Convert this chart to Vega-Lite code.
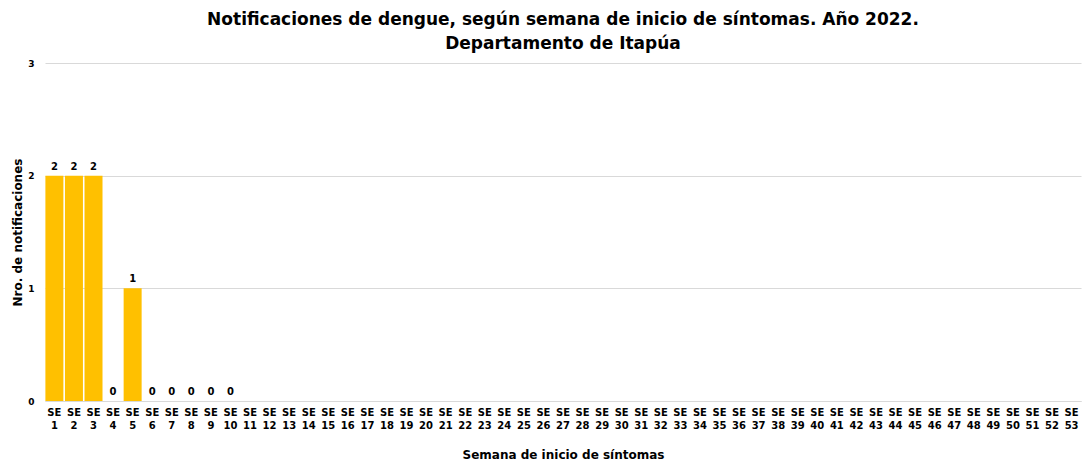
{
  "$schema": "https://vega.github.io/schema/vega-lite/v6.json",
  "width": 1083,
  "height": 461,
  "autosize": {"type": "fit", "contains": "padding"},
  "padding": {"left": 11, "right": 2, "top": 11, "bottom": 1},
  "background": "white",
  "title": {
    "text": ["Notificaciones de dengue, según semana de inicio de síntomas. Año 2022.", "Departamento de Itapúa"],
    "font": "DejaVu Sans",
    "fontSize": 17,
    "fontWeight": "bold",
    "color": "#000000",
    "anchor": "middle",
    "lineHeight": 24,
    "offset": 6
  },
  "data": {
    "values": [
      {"semana": "SE 1", "casos": 2}, {"semana": "SE 2", "casos": 2}, {"semana": "SE 3", "casos": 2},
      {"semana": "SE 4", "casos": 0}, {"semana": "SE 5", "casos": 1}, {"semana": "SE 6", "casos": 0},
      {"semana": "SE 7", "casos": 0}, {"semana": "SE 8", "casos": 0}, {"semana": "SE 9", "casos": 0},
      {"semana": "SE 10", "casos": 0}, {"semana": "SE 11", "casos": null}, {"semana": "SE 12", "casos": null},
      {"semana": "SE 13", "casos": null}, {"semana": "SE 14", "casos": null}, {"semana": "SE 15", "casos": null},
      {"semana": "SE 16", "casos": null}, {"semana": "SE 17", "casos": null}, {"semana": "SE 18", "casos": null},
      {"semana": "SE 19", "casos": null}, {"semana": "SE 20", "casos": null}, {"semana": "SE 21", "casos": null},
      {"semana": "SE 22", "casos": null}, {"semana": "SE 23", "casos": null}, {"semana": "SE 24", "casos": null},
      {"semana": "SE 25", "casos": null}, {"semana": "SE 26", "casos": null}, {"semana": "SE 27", "casos": null},
      {"semana": "SE 28", "casos": null}, {"semana": "SE 29", "casos": null}, {"semana": "SE 30", "casos": null},
      {"semana": "SE 31", "casos": null}, {"semana": "SE 32", "casos": null}, {"semana": "SE 33", "casos": null},
      {"semana": "SE 34", "casos": null}, {"semana": "SE 35", "casos": null}, {"semana": "SE 36", "casos": null},
      {"semana": "SE 37", "casos": null}, {"semana": "SE 38", "casos": null}, {"semana": "SE 39", "casos": null},
      {"semana": "SE 40", "casos": null}, {"semana": "SE 41", "casos": null}, {"semana": "SE 42", "casos": null},
      {"semana": "SE 43", "casos": null}, {"semana": "SE 44", "casos": null}, {"semana": "SE 45", "casos": null},
      {"semana": "SE 46", "casos": null}, {"semana": "SE 47", "casos": null}, {"semana": "SE 48", "casos": null},
      {"semana": "SE 49", "casos": null}, {"semana": "SE 50", "casos": null}, {"semana": "SE 51", "casos": null},
      {"semana": "SE 52", "casos": null}, {"semana": "SE 53", "casos": null}
    ]
  },
  "encoding": {
    "x": {
      "field": "semana",
      "type": "ordinal",
      "sort": null,
      "scale": {
        "domain": ["SE 1","SE 2","SE 3","SE 4","SE 5","SE 6","SE 7","SE 8","SE 9","SE 10","SE 11","SE 12","SE 13","SE 14","SE 15","SE 16","SE 17","SE 18","SE 19","SE 20","SE 21","SE 22","SE 23","SE 24","SE 25","SE 26","SE 27","SE 28","SE 29","SE 30","SE 31","SE 32","SE 33","SE 34","SE 35","SE 36","SE 37","SE 38","SE 39","SE 40","SE 41","SE 42","SE 43","SE 44","SE 45","SE 46","SE 47","SE 48","SE 49","SE 50","SE 51","SE 52","SE 53"],
        "paddingInner": 0.08,
        "paddingOuter": 0.02
      },
      "axis": {
        "title": "Semana de inicio de síntomas",
        "titleFont": "DejaVu Sans",
        "titleFontSize": 12,
        "titleFontWeight": "bold",
        "titleColor": "#000000",
        "titlePadding": 19,
        "labelExpr": "split(datum.label, ' ')",
        "labelAngle": 0,
        "labelFont": "DejaVu Sans",
        "labelFontSize": 10,
        "labelFontWeight": "bold",
        "labelColor": "#000000",
        "labelLineHeight": 13,
        "labelPadding": 6,
        "ticks": false,
        "domainColor": "#d9d9d9",
        "domainWidth": 1,
        "labelOverlap": false
      }
    },
    "y": {
      "field": "casos",
      "type": "quantitative",
      "scale": {"domain": [0, 3], "nice": false},
      "axis": {
        "title": "Nro. de notificaciones",
        "titleFont": "DejaVu Sans",
        "titleFontSize": 12,
        "titleFontWeight": "bold",
        "titleColor": "#000000",
        "titlePadding": 3,
        "values": [0, 1, 2, 3],
        "format": "d",
        "labelFont": "DejaVu Sans",
        "labelFontSize": 9,
        "labelFontWeight": "bold",
        "labelColor": "#000000",
        "labelPadding": 11,
        "ticks": false,
        "domain": false,
        "gridColor": "#d9d9d9",
        "gridWidth": 1
      }
    }
  },
  "layer": [
    {
      "mark": {"type": "bar", "color": "#FFC000"}
    },
    {
      "transform": [{"filter": "isValid(datum.casos)"}],
      "mark": {
        "type": "text",
        "baseline": "bottom",
        "dy": -4,
        "font": "DejaVu Sans",
        "fontSize": 10,
        "fontWeight": "bold",
        "color": "#000000"
      },
      "encoding": {
        "text": {"field": "casos", "type": "quantitative", "format": "d"}
      }
    }
  ],
  "config": {
    "view": {"stroke": null}
  }
}
